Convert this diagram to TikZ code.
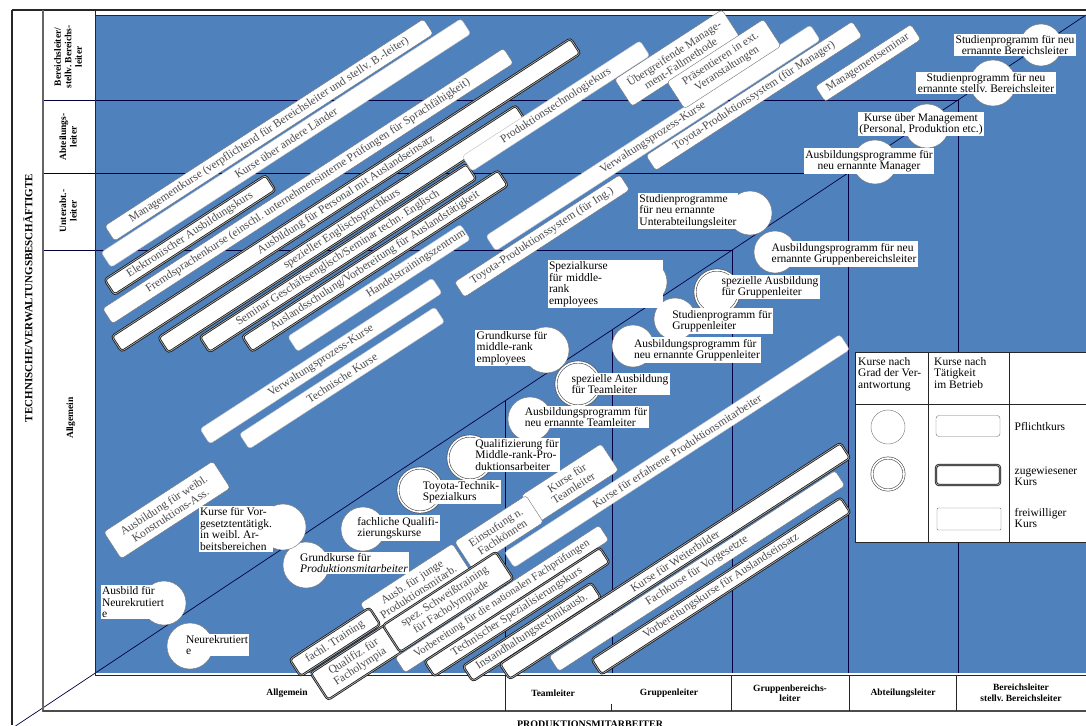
\documentclass[tikz,border=0pt]{standalone}
\usepackage{fontspec}
\setmainfont{Liberation Serif}
\usetikzlibrary{calc}
\definecolor{chartblue}{RGB}{79,129,189}
\newcommand\barfont{\fontsize{11.5}{12}\selectfont}
\newcommand\tagfont{\fontsize{11.5}{11.5}\selectfont}
\newcommand\headfont{\fontsize{9.5}{10.5}\selectfont\bfseries}
\tikzset{
  framestroke/.style={draw=black!85, line width=1pt},
  gridstroke/.style={draw=black!75!blue, line width=0.7pt},
  plainbar/.style={draw=black!55, fill=white, rounded corners=3pt, inner sep=1pt, font=\barfont, text=black!70},
  heavybar/.style={plainbar, draw=black!90, double=black!30, double distance=0.7pt, line width=0.8pt},
  lightbar/.style={plainbar, draw=black!25},
  bar/.style={plainbar, rotate=33, minimum height=18},
  assigned/.style={heavybar, rotate=33, minimum height=18},
  optional/.style={lightbar, rotate=33, minimum height=18},
  twoline/.style={minimum height=32, align=center},
  course/.style={circle, draw=black!55, fill=white, inner sep=0, minimum size=44},
  special/.style={course, draw=black!70, double=white, double distance=1.6pt, line width=0.6pt},
  tag/.style={fill=white, inner sep=1.5pt, align=left, font=\tagfont},
  headlabel/.style={font=\headfont, align=center},
}

\begin{document}
\begin{tikzpicture}[x=1pt, y=-1pt]
\useasboundingbox (0,0) rectangle (1086,725);
\fill[white] (0,0) rectangle (1086,725);
\fill[chartblue] (95,15) rectangle (1086,673);

% Raster: Diagonale, Stufen, Spalten
\draw[gridstroke] (1086,15) -- (5,733);
\foreach \y/\x in {100/958, 173/848, 250/732}
  \draw[gridstroke] (43,\y) -- (\x,\y) -- (\x,673);
\foreach \x/\y in {505/401, 612/330}
  \draw[gridstroke] (\x,\y) -- (\x,673);

% Rahmen
\draw[framestroke, line width=1.8pt] (12,10) -- (1086,10);
\draw[framestroke, line width=0.6pt] (95,15) -- (1086,15);
\draw[framestroke, line width=1.4pt] (12,10) -- (12,725);
\draw[framestroke, draw=black!60, line width=1.4pt] (43,10) -- (43,712);
\draw[framestroke, line width=0.6pt] (95,10) -- (95,675);
\draw[framestroke] (95,675) -- (1086,675);
\draw[framestroke, draw=black!70, line width=1.6pt] (43,711) -- (1086,711);
\foreach \x in {505,731,849,956}
  \draw[framestroke] (\x,675) -- (\x,711);
\draw[framestroke, line width=0.4pt] (611,704) -- (611,711);

% Achsenbeschriftung links
\node[headlabel, rotate=90, font=\fontsize{11}{12}\selectfont\bfseries] (side-title) at (28,298) {TECHNISCHE/VERWALTUNGSBESCHÄFTIGTE};
\node[headlabel, rotate=90] (row-1) at (68,57) {Bereichsleiter/\\stellv.\ Bereichs-\\leiter};
\node[headlabel, rotate=90] (row-2) at (68,137) {Abteilungs-\\leiter};
\node[headlabel, rotate=90] (row-3) at (68,211) {Unterabt.-\\leiter};
\node[headlabel, rotate=90] (row-4) at (71,418) {Allgemein};

% Achsenbeschriftung unten
\foreach \x/\l [count=\i] in {287/Allgemein, 553/Teamleiter, 669/Gruppenleiter, 790/{Gruppenbereichs-\\leiter}, 903/Abteilungsleiter, 1021/{Bereichsleiter\\stellv.\ Bereichsleiter}}
  \node[headlabel] (col-\i) at (\x,693) {\l};
\node[headlabel, font=\fontsize{10}{11}\selectfont\bfseries] (bottom-title) at (590,724) {PRODUKTIONSMITARBEITER};

% Kurse nach Taetigkeit (technisch/verwaltend)
\node[bar, minimum width=380] (mgmtkurse) at (269,130) {Managementkurse (verpflichtend für Bereichsleiter und stellv.\ B.-leiter)};
\node[optional, minimum width=429] (laender) at (286,143) {Kurse über andere Länder};
\node[assigned, minimum width=192] (elektronik) at (190,235) {Elektronischer Ausbildungskurs};
\node[bar, minimum width=478] (fremdsprache) at (308,186) {Fremdsprachenkurse (einschl.\ unternehmensinterne Prüfungen für Sprachfähigkeit)};
\node[assigned, minimum width=547] (auslandpers) at (346,195) {Ausbildung für Personal mit Auslandseinsatz};
\node[assigned, minimum width=426] (englisch) at (342,229) {spezieller Englischsprachkurs};
\node[assigned, minimum width=318] (seminar) at (338,258) {Seminar Geschäftsenglisch/Seminar techn.\ Englisch};
\node[assigned, minimum width=305] (auslandschul) at (375,261) {Auslandsschulung/Vorbereitung für Auslandstätigkeit};
\node[optional, text width=204, align=right] (handel) at (379,288) {Handelstrainingszentrum};
\node[optional, minimum width=277] (verwaltung-1) at (321,361) {Verwaltungsprozess-Kurse};
\node[optional, minimum width=233] (technik) at (342,378) {Technische Kurse};
\node[optional, minimum width=212] (prodtech) at (556,106) {Produktionstechnologiekurs};
\node[optional, minimum width=387] (verwaltung-2) at (653,138) {Verwaltungsprozess-Kurse};
\node[bar, minimum width=197] (toyota-ing) at (542,236) {Toyota-Produktionssystem (für Ing.)};
\node[bar, twoline, minimum width=128] (fallmethode) at (677,58) {Übergreifende Manage-\\ment-Fallmethode};
\node[bar, twoline, minimum width=115] (praesentieren) at (724,64) {Präsentieren in ext.\\Veranstaltungen};
\node[bar, minimum width=246] (toyota-mgr) at (754,96) {Toyota-Produktionssystem (für Manager)};
\node[bar, minimum width=114] (mgmtseminar) at (868,63) {Managementseminar};

% Kurse nach Taetigkeit (Produktion)
\node[bar, twoline, minimum width=130] (weibl) at (167,510) {Ausbildung für weibl.\\Konstruktions-Ass.};
\node[bar, twoline, minimum width=95] (kurs-team) at (570,483) {Kurse für\\Teamleiter};
\node[bar, twoline, minimum width=85] (einstufung) at (499,532) {Einstufung n.\\Fachkönnen};
\node[optional, minimum width=400] (erfahren) at (677,451) {Kurse für erfahrene Produktionsmitarbeiter};
\node[bar, twoline, minimum width=110] (jung) at (415,587) {Ausb.\ für junge\\Produktionsmitarb.};
\node[assigned, minimum width=95, minimum height=20] (training) at (335,642) {fachl.\ Training};
\node[assigned, twoline, minimum width=90] (olympia) at (357,662) {Qualifiz.\ für\\Facholympia};
\node[assigned, twoline, minimum width=135] (schweiss) at (448,602) {spez.\ Schweißtraining\\für Facholympiade};
\node[bar, minimum width=243, font=\fontsize{11}{12}\selectfont] (fachpruefung) at (502,599) {Vorbereitung für die nationalen Fachprüfungen};
\node[assigned, minimum width=209] (spezial) at (517,612) {Technischer Spezialisierungskurs};
\node[assigned, minimum width=153] (instand) at (532,632) {Instandhaltungstechnikausb.};
\node[assigned, minimum width=406] (weiterbilder) at (675,561) {Kurse für Weiterbilder};
\node[bar, minimum width=341] (vorgesetzte) at (697,571) {Fachkurse für Vorgesetzte};
\node[assigned, minimum width=297] (auslandvorb) at (721,586) {Vorbereitungskurse für Auslandseinsatz};

% Kurse nach Grad der Verantwortung
\node[course, minimum size=42] (circ-1) at (1041,45) {};
\node[course, minimum size=46] (circ-2) at (993,83) {};
\node[course] (circ-3) at (927,126) {};
\node[course] (circ-4) at (875,162) {};
\node[course] (circ-5) at (750,213) {};
\node[course, minimum size=42] (circ-6) at (775,252) {};
\node[special] (circ-7) at (717,292) {};
\node[course, minimum size=42] (circ-8) at (675,319) {};
\node[course, minimum size=42] (circ-9) at (633,346) {};
\node[course] (circ-10) at (645,282) {};
\node[course, minimum size=46] (circ-11) at (546,350) {};
\node[special] (circ-12) at (578,384) {};
\node[course] (circ-13) at (530,419) {};
\node[special] (circ-14) at (470,458) {};
\node[special] (circ-15) at (420,490) {};
\node[course] (circ-16) at (363,529) {};
\node[course, minimum size=46] (circ-17) at (306,565) {};
\node[course, minimum size=46] (circ-18) at (283,527) {};
\node[course] (circ-19) at (164,603) {};
\node[course, minimum size=46] (circ-20) at (190,646) {};

\node[tag, align=center] (tag-1) at (1015,45) {Studienprogramm für neu\\ernannte Bereichsleiter};
\node[tag, align=center] (tag-2) at (986,83) {Studienprogramm für neu\\ernannte stellv.\ Bereichsleiter};
\node[tag, align=center] (tag-3) at (921,124) {Kurse über Management\\(Personal, Produktion etc.)};
\node[tag, align=center] (tag-4) at (869,161) {Ausbildungsprogramme für\\neu ernannte Manager};
\node[tag] (tag-5) at (688,211) {Studienprogramme\\für neu ernannte\\Unterabteilungsleiter};
\node[tag] (tag-6) at (844,254) {Ausbildungsprogramm für neu\\ernannte Gruppenbereichsleiter};
\node[tag] (tag-7) at (770,287) {spezielle Ausbildung\\für Gruppenleiter};
\node[tag] (tag-8) at (722,321) {Studienprogramm für\\Gruppenleiter};
\node[tag] (tag-9) at (697,350) {Ausbildungsprogramm für\\neu ernannte Gruppenleiter};
\node[tag, text width=112] (tag-10) at (605,284) {Spezialkurse\\für middle-\\rank\\employees};
\node[tag] (tag-11) at (512,348) {Grundkurse für\\middle-rank\\employees};
\node[tag] (tag-12) at (620,384) {spezielle Ausbildung\\für Teamleiter};
\node[tag] (tag-13) at (586,417) {Ausbildungsprogramm für\\neu ernannte Teamleiter};
\node[tag] (tag-14) at (517,455) {Qualifizierung für\\Middle-rank-Pro-\\duktionsarbeiter};
\node[tag] (tag-15) at (461,492) {Toyota-Technik-\\Spezialkurs};
\node[tag] (tag-16) at (398,528) {fachliche Qualifi-\\zierungskurse};
\node[tag] (tag-17) at (354,563) {Grundkurse für\\\textit{Produktionsmitarbeiter}};
\node[tag] (tag-18) at (236,529) {Kurse für Vor-\\gesetztentätigk.\\in weibl.\ Ar-\\beitsbereichen};
\node[tag] (tag-19) at (133,602) {Ausbild für\\Neurekrutiert\\e};
\node[tag] (tag-20) at (217,645) {Neurekrutiert\\e};

% Legende
\draw[framestroke, fill=white, line width=0.8pt] (855,352) rectangle (1092,542);
\draw[framestroke, line width=0.8pt] (928,352) -- (928,542) (1009,352) -- (1009,542) (855,404) -- (1092,404);
\node[tag, anchor=north west, inner sep=0] (leg-head-1) at (858,357) {Kurse nach\\Grad der Ver-\\antwortung};
\node[tag, anchor=north west, inner sep=0] (leg-head-2) at (934,357) {Kurse nach\\Tätigkeit\\im Betrieb};
\node[course, minimum size=34] (leg-circ-1) at (888,427) {};
\node[special, minimum size=32] (leg-circ-2) at (888,474) {};
\node[plainbar, minimum width=64, minimum height=21] (leg-bar-1) at (968,426) {};
\node[heavybar, minimum width=64, minimum height=20] (leg-bar-2) at (968,475) {};
\node[lightbar, draw=black!55, rounded corners=1pt, minimum width=64, minimum height=22] (leg-bar-3) at (969,519) {};
\node[tag, anchor=west] (leg-text-1) at (1013,427) {Pflichtkurs};
\node[tag, anchor=west] (leg-text-2) at (1013,476) {zugewiesener\\Kurs};
\node[tag, anchor=west] (leg-text-3) at (1013,518) {freiwilliger\\Kurs};
\end{tikzpicture}
\end{document}
